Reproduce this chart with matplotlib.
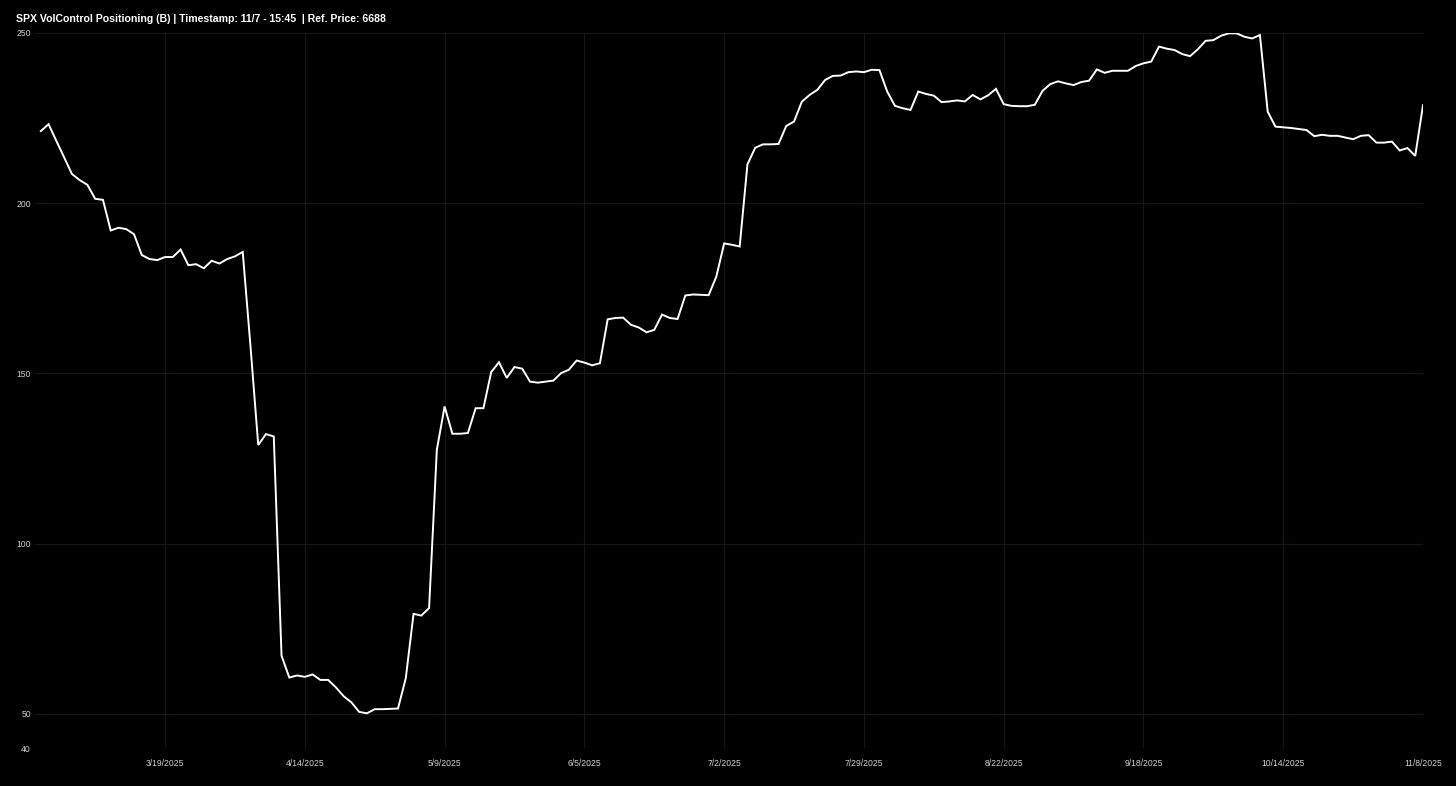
# -*- coding: utf-8 -*-
"""SPX VolControl positioning (B) — daily line, one point per trading day."""
import numpy as np
import matplotlib
import matplotlib.pyplot as plt

matplotlib.use("Agg")
plt.rcParams["font.family"] = ["Liberation Sans", "DejaVu Sans"]

TITLE = "SPX VolControl Positioning (B) | Timestamp: 11/7 - 15:45  | Ref. Price: 6688"

# positioning ($B), trading-day order
positioning = [
    221.2, 223.2, 218.3, 213.5, 208.6, 206.8, 205.4, 201.3, 201.0, 192.0,
    192.8, 192.4, 190.9, 184.8, 183.6, 183.3, 184.2, 184.2, 186.4, 181.8,
    182.1, 180.9, 183.1, 182.3, 183.6, 184.4, 185.7, 158.0, 129.0, 132.2,
    131.5, 67.1, 60.7, 61.3, 60.9, 61.6, 60.0, 60.0, 57.8, 55.2,
    53.4, 50.6, 50.2, 51.4, 51.4, 51.5, 51.6, 60.5, 79.4, 78.9,
    81.1, 127.6, 140.3, 132.3, 132.3, 132.5, 139.8, 139.8, 150.4, 153.3,
    148.7, 151.9, 151.4, 147.6, 147.3, 147.6, 147.9, 150.1, 151.1, 153.8,
    153.2, 152.4, 153.0, 165.9, 166.3, 166.4, 164.3, 163.5, 162.1, 162.8,
    167.3, 166.3, 166.0, 172.9, 173.2, 173.1, 173.0, 178.5, 188.2, 187.8,
    187.3, 211.4, 216.3, 217.3, 217.3, 217.4, 222.7, 224.0, 229.8, 231.8,
    233.3, 236.2, 237.4, 237.5, 238.5, 238.7, 238.5, 239.2, 239.1, 232.8,
    228.6, 227.9, 227.4, 232.8, 232.1, 231.6, 229.7, 229.9, 230.2, 229.9,
    231.8, 230.5, 231.7, 233.6, 229.1, 228.6, 228.5, 228.5, 228.9, 233.0,
    235.0, 235.8, 235.2, 234.7, 235.6, 236.0, 239.3, 238.3, 238.9, 238.9,
    238.9, 240.3, 241.1, 241.6, 246.0, 245.4, 245.0, 243.8, 243.2, 245.2,
    247.7, 247.9, 249.2, 249.9, 249.9, 248.9, 248.4, 249.4, 226.9, 222.5,
    222.3, 222.1, 221.8, 221.5, 219.7, 220.1, 219.8, 219.8, 219.3, 218.8,
    219.8, 220.0, 217.8, 217.8, 218.1, 215.5, 216.2, 213.9, 228.8,
]

tick_idx = [16, 34, 52, 70, 88, 106, 124, 142, 160, 178]
tick_labels = ["3/19/2025", "4/14/2025", "5/9/2025", "6/5/2025", "7/2/2025",
               "7/29/2025", "8/22/2025", "9/18/2025", "10/14/2025", "11/8/2025"]
y_ticks = [40, 50, 100, 150, 200, 250]


def main():
    fig = plt.figure(figsize=(14.56, 7.86), dpi=100, facecolor="black")
    ax = fig.add_axes([35 / 1456, 38 / 786, (1423 - 35) / 1456, (748 - 33) / 786])
    ax.set_facecolor("black")

    x = np.arange(len(positioning))
    ax.plot(x, positioning, color="white", lw=1.4, solid_joinstyle="miter", zorder=3)

    ax.set_xlim(-0.75, len(positioning) - 1)
    ax.set_ylim(40, 250)
    ax.set_xticks(tick_idx)
    ax.set_xticklabels(tick_labels)
    ax.set_yticks(y_ticks)
    ax.grid(True, color="#121817", lw=0.8)
    ax.tick_params(length=0, colors="#d0d0d0", labelsize=6.2)
    ax.tick_params(axis="x", pad=8)
    ax.tick_params(axis="y", pad=3)
    for s in ax.spines.values():
        s.set_visible(False)

    fig.text(16 / 1456, 1 - 19 / 786, TITLE, color="white", fontsize=7.6,
             fontweight="bold", ha="left", va="center")
    fig.savefig("out.png", dpi=100, facecolor="black")
    plt.close(fig)


if __name__ == "__main__":
    main()
